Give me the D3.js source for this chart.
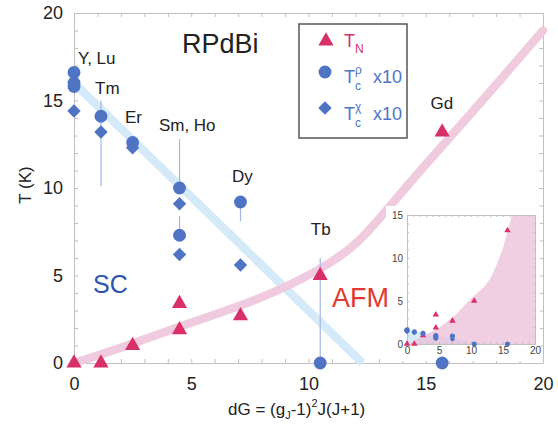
<!DOCTYPE html>
<html><head><meta charset="utf-8">
<script src="https://cdn.jsdelivr.net/npm/d3@7/dist/d3.min.js"></script>
<style>body{margin:0;background:#fff}svg{display:block;font-family:"Liberation Sans",Arial,sans-serif}</style>
</head><body><svg id="c" width="558" height="428"></svg>
<script>
// ---- data ----
const tnX = [0, 1.15, 2.5, 4.5, 4.5, 7.1, 10.5, 15.7];
const tnY = [0, 0, 1.0, 3.4, 1.9, 2.7, 5.0, 13.2];
const rhoX = [0, 0, 0, 1.15, 2.5, 4.5, 4.5, 7.1, 10.5, 15.7];
const rhoY = [16.6, 16.0, 15.8, 14.1, 12.6, 10.0, 7.3, 9.2, 0, 0];      // Tc^rho x10
const chiX = [0, 1.15, 2.5, 4.5, 4.5, 7.1];
const chiY = [14.4, 13.2, 12.3, 9.1, 6.2, 5.6];                          // Tc^chi x10
const errX = [1.15, 4.5, 4.5, 7.1, 10.5];
const errLo = [10.1, 10.0, 7.3, 8.1, 0];
const errHi = [15.0, 12.8, 8.4, 9.2, 6.0];
const afmX = [0, 2, 4.5, 7.9, 10.5, 12, 13, 14.75, 17.3, 20];
const afmY = [0, 0.85, 2.1, 3.6, 5.3, 6.7, 8.2, 11.0, 14.8, 19.0];
const scX = [0, 12.3];
const scY = [16.0, 0];
const insetAfmX = [0, 2.5, 5, 7.5, 10, 12, 13, 14, 15, 16.4];
const insetAfmY = [0, 0.9, 1.9, 3.3, 5.3, 6.6, 7.6, 9.2, 11.2, 15];
const insetScX = [0, 0, 12.3];
const insetScY = [0, 1.6, 0];
const elemNames = ["Y, Lu", "Tm", "Er", "Sm, Ho", "Dy", "Tb", "Gd"];
const elemLx = [0.17, 0.9, 2.17, 3.62, 6.74, 10.1, 15.2];
const elemLy = [17.1, 15.4, 13.7, 13.26, 10.34, 7.3, 14.5];
const xTicks = [0, 5, 10, 15, 20];
const yTicks = [0, 5, 10, 15, 20];
const inXTicks = [0, 5, 10, 15, 20];
const inYTicks = [0, 5, 10, 15];

// ---- styles ----
const cTri = "#d8306a", cBlue = "#4f74c4", cErr = "#a3b6e2";
const svg = d3.select("#c");
const x = d3.scaleLinear([0, 20], [74, 543]);
const y = d3.scaleLinear([0, 20], [363, 13]);

function styleAxis(g){
  g.selectAll(".domain").attr("stroke", "#c0c0c0");
  g.selectAll(".tick line").attr("stroke", "#c0c0c0");
}
const minor = d3.range(0, 21);
const fmt = d => xTicks.includes(d) ? d : "";
svg.append("g").attr("transform", `translate(0,${y(0)})`)
  .call(d3.axisBottom(x).tickValues(minor).tickSize(-4).tickSizeOuter(0).tickPadding(14).tickFormat(fmt))
  .call(styleAxis).call(g => g.selectAll("text").attr("font-size", 18).attr("fill", "#222").attr("font-family", "Liberation Sans, Arial"));
svg.append("g").attr("transform", `translate(${x(0)},0)`)
  .call(d3.axisLeft(y).tickValues(minor).tickSize(-4).tickSizeOuter(0).tickPadding(11).tickFormat(d => yTicks.includes(d) ? d : ""))
  .call(styleAxis).call(g => g.selectAll("text").attr("font-size", 18).attr("fill", "#222").attr("font-family", "Liberation Sans, Arial"));
svg.append("g").attr("transform", `translate(0,${y(20)})`)
  .call(d3.axisTop(x).tickValues(minor).tickSize(-4).tickSizeOuter(0).tickFormat(""))
  .call(styleAxis);
svg.append("g").attr("transform", `translate(${x(20)},0)`)
  .call(d3.axisRight(y).tickValues(minor).tickSize(-4).tickSizeOuter(0).tickFormat(""))
  .call(styleAxis);

// axis titles
svg.append("text").attr("transform", "translate(31,185) rotate(-90)").attr("text-anchor", "middle")
  .attr("font-size", 17).attr("fill", "#222").text("T (K)");
const xt = svg.append("text").attr("x", 228).attr("y", 415).attr("font-size", 17).attr("fill", "#222");
xt.append("tspan").text("dG = (g");
xt.append("tspan").attr("font-size", 11).attr("dy", 4).text("J");
xt.append("tspan").attr("dy", -4).text("-1)");
xt.append("tspan").attr("font-size", 11).attr("dy", -8).text("2");
xt.append("tspan").attr("dy", 8).text("J(J+1)");

// bands
const line = d3.line().x(d => x(d[0])).y(d => y(d[1]));
svg.append("path").datum(d3.zip(scX, scY)).attr("d", line)
  .attr("fill", "none").attr("stroke", "#d5eaf9").attr("stroke-width", 8.5);
svg.append("path").datum(d3.zip(afmX, afmY)).attr("d", line.curve(d3.curveBasis))
  .attr("fill", "none").attr("stroke", "#f0cbe0").attr("stroke-width", 8.5).attr("stroke-linecap", "round");

// ---- inset ----
const xi = d3.scaleLinear([0, 20], [407, 535]);
const yi = d3.scaleLinear([0, 15], [344, 215]);
svg.append("rect").attr("x", 386).attr("y", 206).attr("width", 154).attr("height", 155).attr("fill", "#fff");
const ins = svg.append("g");
ins.append("defs").append("clipPath").attr("id", "ic").append("rect")
  .attr("x", xi(0)).attr("y", yi(15)).attr("width", xi(20) - xi(0)).attr("height", yi(0) - yi(15));
const area = d3.line().x(d => xi(d[0])).y(d => yi(d[1]));
ins.append("path").datum(d3.zip(insetScX, insetScY)).attr("d", area).attr("fill", "#d6eaf8").attr("clip-path", "url(#ic)");
const afmPoly = d3.zip(insetAfmX, insetAfmY).concat([[20, 15], [20, 0]]);
ins.append("path").datum(afmPoly).attr("d", area.curve(d3.curveLinear)).attr("fill", "#ebbfda").attr("fill-opacity", 0.75).attr("clip-path", "url(#ic)");
const iminor = d3.range(0, 21);
const iminY = d3.range(0, 16);
ins.append("g").attr("transform", `translate(0,${yi(0)})`)
  .call(d3.axisBottom(xi).tickValues(iminor).tickSize(-2).tickSizeOuter(0).tickPadding(3).tickFormat(d => inXTicks.includes(d) ? d : ""))
  .call(styleAxis).call(g => g.selectAll("text").attr("font-size", 10).attr("fill", "#444").attr("font-family", "Liberation Sans, Arial"));
ins.append("g").attr("transform", `translate(${xi(0)},0)`)
  .call(d3.axisLeft(yi).tickValues(iminY).tickSize(-2).tickSizeOuter(0).tickPadding(4).tickFormat(d => inYTicks.includes(d) ? d : ""))
  .call(styleAxis).call(g => g.selectAll("text").attr("font-size", 10).attr("fill", "#444").attr("font-family", "Liberation Sans, Arial"));
ins.append("g").attr("transform", `translate(0,${yi(15)})`)
  .call(d3.axisTop(xi).tickValues(iminor).tickSize(-2).tickSizeOuter(0).tickFormat("")).call(styleAxis);
ins.append("g").attr("transform", `translate(${xi(20)},0)`)
  .call(d3.axisRight(yi).tickValues(iminY).tickSize(-2).tickSizeOuter(0).tickFormat("")).call(styleAxis);
const triS = d3.symbol(d3.symbolTriangle);
const cirS = d3.symbol(d3.symbolCircle);
const diaS = d3.symbol(d3.symbolSquare);
ins.selectAll(".it").data(d3.zip(tnX, tnY)).join("path")
  .attr("transform", d => `translate(${xi(d[0])},${yi(d[1])})`).attr("d", triS.size(18)()).attr("fill", cTri);
ins.selectAll(".ic").data(d3.zip(rhoX, rhoY)).join("path")
  .attr("transform", d => `translate(${xi(d[0])},${yi(d[1] / 10)})`).attr("d", cirS.size(20)()).attr("fill", cBlue);
ins.selectAll(".id").data(d3.zip(chiX, chiY)).join("path")
  .attr("transform", d => `translate(${xi(d[0])},${yi(d[1] / 10)}) rotate(45)`).attr("d", diaS.size(14)()).attr("fill", cBlue);

// ---- error bars ----
svg.selectAll(".err").data(d3.zip(errX, errLo, errHi)).join("line")
  .attr("x1", d => x(d[0])).attr("x2", d => x(d[0])).attr("y1", d => y(d[1])).attr("y2", d => y(d[2]))
  .attr("stroke", cErr).attr("stroke-width", 1.2);

// ---- markers ----
svg.selectAll(".tri").data(d3.zip(tnX, tnY)).join("path")
  .attr("transform", d => `translate(${x(d[0])},${y(d[1])})`).attr("d", triS.size(100)()).attr("fill", cTri);
svg.selectAll(".dia").data(d3.zip(chiX, chiY)).join("path")
  .attr("transform", d => `translate(${x(d[0])},${y(d[1])}) rotate(45)`).attr("d", diaS.size(90)()).attr("fill", cBlue);
svg.selectAll(".cir").data(d3.zip(rhoX, rhoY)).join("path")
  .attr("transform", d => `translate(${x(d[0])},${y(d[1])})`).attr("d", cirS.size(130)()).attr("fill", cBlue);

// ---- labels ----
svg.selectAll(".lab").data(d3.zip(elemNames, elemLx, elemLy)).join("text")
  .attr("x", d => x(d[1])).attr("y", d => y(d[2])).attr("font-size", 17).attr("fill", "#222").text(d => d[0]);
svg.append("text").attr("x", 182).attr("y", 53).attr("font-size", 27).attr("fill", "#222").text("RPdBi");
svg.append("text").attr("x", 93).attr("y", 293).attr("font-size", 25).attr("fill", "#2c55b0").text("SC");
svg.append("text").attr("x", 332).attr("y", 307).attr("font-size", 27).attr("fill", "#e03a30").text("AFM");

// ---- legend ----
const lg = svg.append("g");
lg.append("rect").attr("x", 299).attr("y", 24).attr("width", 108).attr("height", 114)
  .attr("fill", "#fff").attr("stroke", "#555").attr("stroke-width", 1.5);
lg.append("path").attr("transform", "translate(326,41)").attr("d", triS.size(100)()).attr("fill", cTri);
lg.append("path").attr("transform", "translate(325,72)").attr("d", cirS.size(130)()).attr("fill", cBlue);
lg.append("path").attr("transform", "translate(325,108) rotate(45)").attr("d", diaS.size(90)()).attr("fill", cBlue);
const t1 = lg.append("text").attr("x", 344).attr("y", 47).attr("font-size", 18).attr("fill", cTri);
t1.append("tspan").text("T");
t1.append("tspan").attr("font-size", 12).attr("dy", 6).text("N");
const t2 = lg.append("text").attr("x", 344).attr("y", 83).attr("font-size", 18).attr("fill", cBlue);
t2.append("tspan").text("T");
t2.append("tspan").attr("font-size", 12).attr("dy", 7).text("c");
t2.append("tspan").attr("font-size", 12).attr("dx", -6).attr("dy", -16).text("ρ");
t2.append("tspan").attr("x", 373).attr("dy", 9).text("x10");
const t3 = lg.append("text").attr("x", 344).attr("y", 120).attr("font-size", 18).attr("fill", cBlue);
t3.append("tspan").text("T");
t3.append("tspan").attr("font-size", 12).attr("dy", 7).text("c");
t3.append("tspan").attr("font-size", 12).attr("dx", -6).attr("dy", -16).text("χ");
t3.append("tspan").attr("x", 373).attr("dy", 9).text("x10");
</script></body></html>
